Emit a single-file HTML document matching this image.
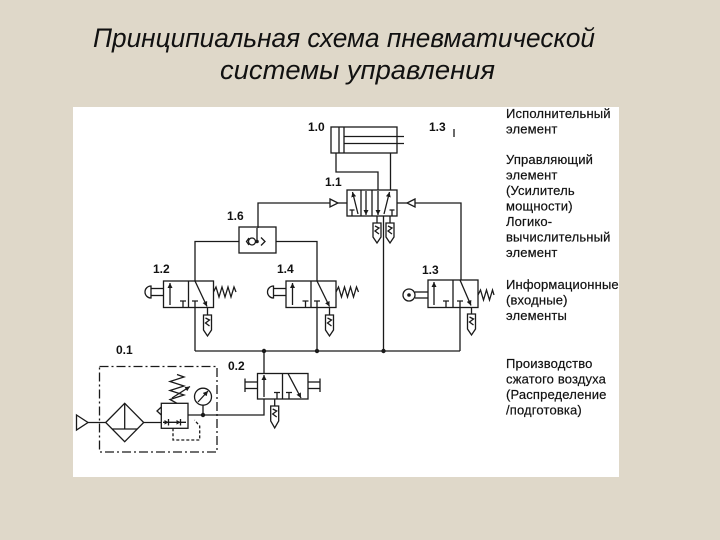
<!DOCTYPE html>
<html>
<head>
<meta charset="utf-8">
<style>
  html, body { margin:0; padding:0; }
  body { width:720px; height:540px; overflow:hidden; background:#dfd8c9; }
  svg { display:block; }
  .ln { fill:none; stroke:#1a1a1a; stroke-width:1.3; }
  .lbl { font-family:"Liberation Sans", sans-serif; font-weight:bold; font-size:12px; fill:#111; }
  .rt { font-family:"Liberation Sans", "Noto Sans CJK SC", sans-serif; font-size:13px; fill:#111; stroke:#111; stroke-width:0.2; letter-spacing:0.15px; }
  .ttl { font-family:"Liberation Sans", "Noto Sans CJK SC", sans-serif; font-style:italic; font-size:27px; fill:#111; }
</style>
</head>
<body>
<svg width="720" height="540" viewBox="0 0 720 540" xmlns="http://www.w3.org/2000/svg">
  <defs>
    <marker id="ah" viewBox="0 0 6 6" refX="6" refY="3" markerWidth="5" markerHeight="5" markerUnits="userSpaceOnUse" orient="auto">
      <path d="M0,0 L6,3 L0,6 z" fill="#1a1a1a"/>
    </marker>
  </defs>
  <rect x="0" y="0" width="720" height="540" fill="#dfd8c9"/>

  <!-- Title -->
  <text class="ttl" x="93" y="47" textLength="502" lengthAdjust="spacingAndGlyphs">Принципиальная схема пневматической</text>
  <text class="ttl" x="220" y="79" textLength="275" lengthAdjust="spacingAndGlyphs">системы управления</text>

  <!-- white panel -->
  <rect x="73" y="107" width="546" height="370" fill="#ffffff"/>

  <!-- Right texts -->
  <g class="rt">
    <text x="506" y="118">Исполнительный</text>
    <text x="506" y="133.5">элемент</text>
    <text x="506" y="164">Управляющий</text>
    <text x="506" y="179.5">элемент</text>
    <text x="506" y="195">(Усилитель</text>
    <text x="506" y="210.5">мощности)</text>
    <text x="506" y="226">Логико-</text>
    <text x="506" y="241.5">вычислительный</text>
    <text x="506" y="257">элемент</text>
    <text x="506" y="289">Информационные</text>
    <text x="506" y="304.5">(входные)</text>
    <text x="506" y="320">элементы</text>
    <text x="506" y="368">Производство</text>
    <text x="506" y="383.5">сжатого воздуха</text>
    <text x="506" y="399">(Распределение</text>
    <text x="506" y="414.5">/подготовка)</text>
  </g>

  <!-- Labels -->
  <g class="lbl">
    <text x="308" y="131">1.0</text>
    <text x="429" y="131">1.3</text>
    <text x="325" y="186">1.1</text>
    <text x="227" y="220">1.6</text>
    <text x="153" y="273">1.2</text>
    <text x="277" y="273">1.4</text>
    <text x="422" y="274">1.3</text>
    <text x="116" y="354">0.1</text>
    <text x="228" y="370">0.2</text>
  </g>
  <line class="ln" x1="454" y1="129" x2="454" y2="137"/>

  <!-- Cylinder 1.0 -->
  <g class="ln">
    <rect x="331" y="127" width="66" height="26"/>
    <line x1="339" y1="127" x2="339" y2="153"/>
    <line x1="344" y1="127" x2="344" y2="153"/>
    <line x1="344" y1="136.5" x2="404" y2="136.5"/>
    <line x1="344" y1="143.5" x2="404" y2="143.5"/>
    <path d="M336,153 V172 H378 V190"/>
    <path d="M390.5,153 V190"/>
  </g>

  <!-- Valve 1.1 -->
  <g class="ln">
    <rect x="347" y="190" width="50" height="26"/>
    <line x1="372" y1="190" x2="372" y2="216"/>
    <line x1="358" y1="214" x2="352.5" y2="192" marker-end="url(#ah)"/>
    <path d="M352,216 V210 M349.5,210 H354.5"/>
    <line x1="361" y1="190" x2="361" y2="216"/>
    <line x1="366" y1="191" x2="366" y2="215" marker-end="url(#ah)"/>
    <line x1="378" y1="191" x2="378" y2="215" marker-end="url(#ah)"/>
    <line x1="384" y1="214" x2="389.5" y2="192" marker-end="url(#ah)"/>
    <path d="M392,216 V210 M389.5,210 H394.5"/>
    <!-- pilots -->
    <path d="M258,228 V203 H330"/>
    <path d="M330,199 L338,203 L330,207 Z"/>
    <line x1="338" y1="203" x2="347" y2="203"/>
    <line x1="397" y1="203" x2="407" y2="203"/>
    <path d="M415,199 L407,203 L415,207 Z"/>
    <path d="M415,203 H461 V280"/>
    <!-- silencers -->
    <line x1="377" y1="216" x2="377" y2="223"/>
    <path d="M373,223 H381 V237 L377,243 L373,237 Z"/>
    <path d="M375,226 L379,228 L375,231 L379,234"/>
    <line x1="390" y1="216" x2="390" y2="223"/>
    <path d="M386,223 H394 V237 L390,243 L386,237 Z"/>
    <path d="M388,226 L392,228 L388,231 L392,234"/>
    <!-- supply -->
    <line x1="383.5" y1="216" x2="383.5" y2="351"/>
  </g>

  <!-- Shuttle 1.6 -->
  <g class="ln">
    <rect x="239" y="227" width="37" height="26"/>
    <path d="M195,281 V241.5 H239"/>
    <path d="M276,241.5 H317 V281"/>
    <circle cx="252" cy="241.5" r="3.5"/>
    <path d="M249,238 L246.5,241.5 L249,245"/>
    <path d="M261,237.5 L265,241.5 L261,245.5"/>
    <line x1="257" y1="228" x2="257" y2="241.5"/>
  </g>
  <circle cx="257" cy="241.5" r="1.8" fill="#1a1a1a"/>

  <!-- Valve 1.2 -->
  <g class="ln">
    <rect x="163.5" y="281" width="50" height="26.5"/>
    <line x1="188.5" y1="281" x2="188.5" y2="307.5"/>
    <line x1="170" y1="305" x2="170" y2="283" marker-end="url(#ah)"/>
    <path d="M183,307.5 V301 M180,301 H186"/>
    <path d="M195,307.5 V301 M192,301 H198"/>
    <line x1="195" y1="281" x2="207" y2="306.5" marker-end="url(#ah)"/>
    <path d="M213.5,292 L216,287 L219,297 L222,287 L225,297 L228,287 L231,297 L234,287 L236,292"/>
    <line x1="151" y1="288.5" x2="163.5" y2="288.5"/>
    <line x1="151" y1="295.5" x2="163.5" y2="295.5"/>
    <path d="M151,286 A6,6 0 0 0 151,298 Z"/>
    <line x1="195" y1="307.5" x2="195" y2="351"/>
    <line x1="207.5" y1="307.5" x2="207.5" y2="315"/>
    <path d="M203.5,315 H211.5 V330 L207.5,336 L203.5,330 Z"/>
    <path d="M205.5,318 L209.5,320 L205.5,323 L209.5,326"/>
  </g>

  <!-- Valve 1.4 -->
  <g class="ln">
    <rect x="286" y="281" width="50" height="26.5"/>
    <line x1="311" y1="281" x2="311" y2="307.5"/>
    <line x1="292.5" y1="305" x2="292.5" y2="283" marker-end="url(#ah)"/>
    <path d="M305.5,307.5 V301 M302.5,301 H308.5"/>
    <path d="M317,307.5 V301 M314,301 H320"/>
    <line x1="317" y1="281" x2="329.5" y2="306.5" marker-end="url(#ah)"/>
    <path d="M336,292 L338.5,287 L341.5,297 L344.5,287 L347.5,297 L350.5,287 L353.5,297 L356.5,287 L358.5,292"/>
    <line x1="273.5" y1="288.5" x2="286" y2="288.5"/>
    <line x1="273.5" y1="295.5" x2="286" y2="295.5"/>
    <path d="M273.5,286 A6,6 0 0 0 273.5,298 Z"/>
    <line x1="317" y1="307.5" x2="317" y2="351"/>
    <line x1="329.5" y1="307.5" x2="329.5" y2="315"/>
    <path d="M325.5,315 H333.5 V330 L329.5,336 L325.5,330 Z"/>
    <path d="M327.5,318 L331.5,320 L327.5,323 L331.5,326"/>
  </g>

  <!-- Valve 1.3 -->
  <g class="ln">
    <rect x="428" y="280" width="50" height="27.5"/>
    <line x1="453" y1="280" x2="453" y2="307.5"/>
    <line x1="434" y1="305" x2="434" y2="282" marker-end="url(#ah)"/>
    <path d="M446,307.5 V301 M443,301 H449"/>
    <path d="M460,307.5 V301 M457,301 H463"/>
    <line x1="460" y1="280" x2="471" y2="305.5" marker-end="url(#ah)"/>
    <path d="M478,295 L480.5,290 L483.5,300 L486.5,290 L489.5,300 L492.5,290 L494,295"/>
    <line x1="415" y1="292" x2="428" y2="292"/>
    <line x1="415" y1="298" x2="428" y2="298"/>
    <circle cx="409" cy="295" r="6"/>
    <line x1="460" y1="307.5" x2="460" y2="351"/>
    <line x1="471.5" y1="307.5" x2="471.5" y2="314"/>
    <path d="M467.5,314 H475.5 V329 L471.5,335 L467.5,329 Z"/>
    <path d="M469.5,317 L473.5,319 L469.5,322 L473.5,325"/>
  </g>
  <circle cx="409" cy="295" r="1.8" fill="#1a1a1a"/>

  <!-- Main supply line -->
  <line class="ln" x1="195" y1="351" x2="460" y2="351"/>
  <circle cx="264" cy="351" r="2.2" fill="#1a1a1a"/>
  <circle cx="317" cy="351" r="2.2" fill="#1a1a1a"/>
  <circle cx="383.5" cy="351" r="2.2" fill="#1a1a1a"/>

  <!-- Valve 0.2 -->
  <g class="ln">
    <line x1="264" y1="351" x2="264" y2="373.5"/>
    <rect x="257.5" y="373.5" width="50.5" height="25.5"/>
    <line x1="282.5" y1="373.5" x2="282.5" y2="399"/>
    <line x1="264" y1="397" x2="264" y2="375" marker-end="url(#ah)"/>
    <path d="M277,399 V392.5 M274,392.5 H280"/>
    <path d="M289,399 V392.5 M286,392.5 H292"/>
    <line x1="288" y1="373.5" x2="301" y2="398" marker-end="url(#ah)"/>
    <line x1="245" y1="382" x2="257.5" y2="382"/>
    <line x1="245" y1="388.5" x2="257.5" y2="388.5"/>
    <line x1="245" y1="378.5" x2="245" y2="392"/>
    <line x1="308" y1="382" x2="320" y2="382"/>
    <line x1="308" y1="388.5" x2="320" y2="388.5"/>
    <line x1="320" y1="378.5" x2="320" y2="392"/>
    <line x1="274.7" y1="399" x2="274.7" y2="406"/>
    <path d="M270.7,406 H278.7 V421 L274.7,428 L270.7,421 Z"/>
    <path d="M272.7,409 L276.7,411 L272.7,414 L276.7,417"/>
    <path d="M264,399 V415 H188"/>
  </g>

  <!-- Unit 0.1 -->
  <g class="ln">
    <rect x="99.5" y="366.5" width="117.5" height="85.5" stroke-dasharray="9,3,2,3"/>
    <path d="M76.5,415 L88,422.5 L76.5,430 Z"/>
    <line x1="88" y1="422.5" x2="105.7" y2="422.5"/>
    <path d="M105.7,422.5 L124.7,403.3 L143.7,422.5 L124.7,441.7 Z"/>
    <line x1="124.7" y1="403.3" x2="124.7" y2="429"/>
    <line x1="112" y1="429" x2="137.4" y2="429"/>
    <line x1="143.7" y1="422.5" x2="161.3" y2="422.5"/>
    <rect x="161.3" y="403.3" width="26.7" height="25"/>
    <path d="M161.3,407 L157,411 L161.3,415"/>
    <line x1="163" y1="422.3" x2="186" y2="422.3"/>
    <line x1="168.5" y1="419" x2="168.5" y2="425.5"/>
    <line x1="180.5" y1="419" x2="180.5" y2="425.5"/>
    <path d="M177,403.3 L170,399.5 L184,395 L170,390.5 L184,386 L170,381.5 L184,377 L177,374.5"/>
    <line x1="172" y1="398" x2="190" y2="386.5" marker-end="url(#ah)"/>
    <path d="M173,428.3 V440 H199.7 V426 L194.5,420" stroke-dasharray="3,2"/>
    <circle cx="203" cy="396.7" r="8.5"/>
    <line x1="198" y1="402" x2="208" y2="391" marker-end="url(#ah)"/>
    <line x1="203" y1="405.2" x2="203" y2="415"/>
  </g>
  <path d="M168.5,422.3 L164.5,420 L164.5,424.6 Z M180.5,422.3 L176.5,420 L176.5,424.6 Z" fill="#1a1a1a"/>
  <circle cx="203" cy="415" r="2.2" fill="#1a1a1a"/>
</svg>
</body>
</html>
